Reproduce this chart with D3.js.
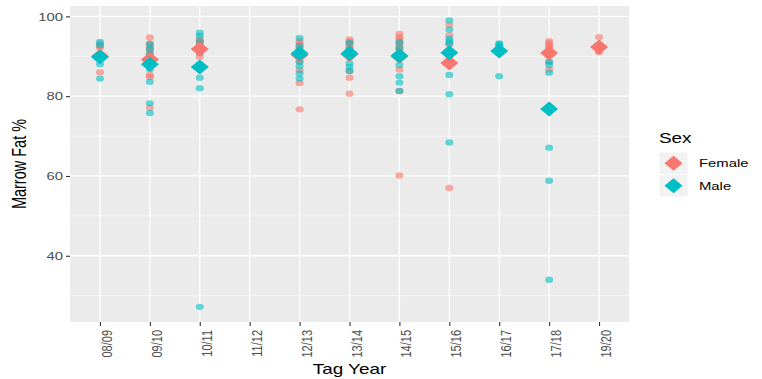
<!DOCTYPE html>
<html>
<head>
<meta charset="utf-8">
<script src="https://cdn.jsdelivr.net/npm/d3@7"></script>
<style>
  html, body { margin: 0; padding: 0; background: #fff; }
  svg { display: block; font-family: "Liberation Sans", Arial, sans-serif; }
</style>
</head>
<body>
<svg id="chart" width="762" height="379"></svg>
<script>
// Tag years on the x axis
const tagYears = ["08/09", "09/10", "10/11", "11/12", "12/13", "13/14", "14/15", "15/16", "16/17", "17/18", "19/20"];

// Individual marrow fat readings, one list per tag year
const femaleFat = [
  [93.2, 92.6, 92.2, 86.0],
  [94.7, 93.2, 92.6, 92.0, 91.4, 90.6, 89.8, 88.8, 85.3, 84.8, 77.1],
  [94.3, 93.8, 93.3, 92.8, 92.2, 91.6, 90.8, 89.9],
  [],
  [93.8, 93.3, 92.7, 92.1, 91.5, 90.8, 90.0, 88.6, 86.5, 83.3, 76.7],
  [94.2, 93.7, 93.2, 92.6, 92.0, 91.3, 90.5, 89.6, 86.3, 84.6, 80.6],
  [95.6, 94.8, 94.2, 93.6, 93.0, 92.4, 91.8, 91.0, 90.2, 86.7, 81.3, 60.1],
  [97.9, 95.3, 93.0, 90.0, 57.0],
  [],
  [93.8, 93.3, 92.8, 92.3, 91.8, 91.2, 90.5, 88.6, 86.7],
  [94.8, 91.4, 91.0]
];
const maleFat = [
  [93.6, 92.8, 90.2, 88.0, 84.4],
  [93.0, 91.8, 90.5, 89.3, 88.0, 86.8, 83.6, 78.2, 75.8],
  [95.9, 95.1, 93.6, 91.0, 88.0, 84.6, 82.0, 27.2],
  [],
  [94.6, 92.5, 90.7, 88.6, 87.5, 85.7, 84.4],
  [93.4, 91.8, 90.5, 88.2, 87.3, 86.3],
  [93.5, 92.0, 90.5, 87.8, 85.0, 83.4, 81.3],
  [99.0, 96.7, 94.4, 93.8, 93.2, 91.5, 85.3, 80.5, 68.4],
  [93.2, 93.0, 92.5, 91.8, 85.0],
  [88.6, 87.8, 85.9, 67.1, 58.8, 34.0],
  []
];

// Group means per tag year (null where no animals)
const femaleMean = [90.0, 89.2, 91.8, null, 90.3, 90.5, 90.0, 88.3, null, 90.8, 92.3];
const maleMean   = [89.8, 88.0, 87.3, null, 90.7, 90.7, 90.1, 90.9, 91.3, 76.8, null];

const yTicks = [40, 60, 80, 100];
const yMinor = [30, 50, 70, 90];
const sexes = ["Female", "Male"];
const sexColor = { Female: "#F8766D", Male: "#00BFC4" };

const svg = d3.select("#chart");
const panel = { left: 70, right: 629, top: 6, bottom: 322 };
const stretch = 1.35; // horizontal stretch applied to text

const x = d3.scalePoint().domain(tagYears).range([panel.left, panel.right]).padding(0.6);
const y = d3.scaleLinear().domain([23.4, 102.6]).range([panel.bottom, panel.top]);

// panel background
svg.append("rect")
  .attr("x", panel.left).attr("y", panel.top)
  .attr("width", panel.right - panel.left).attr("height", panel.bottom - panel.top)
  .attr("fill", "#EBEBEB");

// grid lines
const grid = svg.append("g");
grid.selectAll(".minor").data(yMinor).join("line")
  .attr("x1", panel.left).attr("x2", panel.right)
  .attr("y1", d => y(d)).attr("y2", d => y(d))
  .attr("stroke", "#fff").attr("stroke-width", 0.6);
grid.selectAll(".majorY").data(yTicks).join("line")
  .attr("x1", panel.left).attr("x2", panel.right)
  .attr("y1", d => y(d)).attr("y2", d => y(d))
  .attr("stroke", "#fff").attr("stroke-width", 1.3);
grid.selectAll(".majorX").data(tagYears).join("line")
  .attr("x1", d => x(d)).attr("x2", d => x(d))
  .attr("y1", panel.top).attr("y2", panel.bottom)
  .attr("stroke", "#fff").attr("stroke-width", 1.3);

// raw points
const points = [];
tagYears.forEach((yr, i) => {
  femaleFat[i].forEach(v => points.push({ yr, v, sex: "Female" }));
  maleFat[i].forEach(v => points.push({ yr, v, sex: "Male" }));
});
svg.append("g").selectAll("ellipse").data(points).join("ellipse")
  .attr("cx", d => x(d.yr)).attr("cy", d => y(d.v))
  .attr("rx", 4).attr("ry", 3.2)
  .attr("fill", d => sexColor[d.sex]).attr("fill-opacity", 0.6);

// mean diamonds
const diamond = (cx, cy, hw, hh) => `M${cx},${cy - hh}L${cx + hw},${cy}L${cx},${cy + hh}L${cx - hw},${cy}Z`;
const means = [];
tagYears.forEach((yr, i) => {
  if (femaleMean[i] != null) means.push({ yr, v: femaleMean[i], sex: "Female" });
});
tagYears.forEach((yr, i) => {
  if (maleMean[i] != null) means.push({ yr, v: maleMean[i], sex: "Male" });
});
svg.append("g").selectAll("path").data(means).join("path")
  .attr("d", d => diamond(x(d.yr), y(d.v), 9, 7.5))
  .attr("fill", d => sexColor[d.sex]);

// y axis
const yAxis = svg.append("g")
  .attr("transform", `translate(${panel.left},0)`)
  .call(d3.axisLeft(y).tickValues(yTicks).tickSize(4).tickPadding(3));
yAxis.select(".domain").remove();
yAxis.selectAll(".tick line").attr("stroke", "#333").attr("stroke-width", 1.1);
yAxis.selectAll(".tick text")
  .attr("x", null).attr("dy", null)
  .attr("transform", `translate(-7,0) scale(${stretch},1)`)
  .attr("dominant-baseline", "central")
  .attr("fill", "#4D4D4D").attr("font-size", 11)
  .attr("font-family", "'Liberation Sans', Arial, sans-serif");

// x axis
const xAxis = svg.append("g")
  .attr("transform", `translate(0,${panel.bottom})`)
  .call(d3.axisBottom(x).tickSize(4));
xAxis.select(".domain").remove();
xAxis.selectAll(".tick line").attr("stroke", "#333").attr("stroke-width", 1.1);
xAxis.selectAll(".tick text")
  .attr("y", null).attr("dy", null)
  .attr("transform", `translate(11.5,8) scale(${stretch},1) rotate(-90)`)
  .attr("text-anchor", "end")
  .attr("fill", "#4D4D4D").attr("font-size", 11)
  .attr("font-family", "'Liberation Sans', Arial, sans-serif");

// axis titles
svg.append("text")
  .attr("transform", `translate(${(panel.left + panel.right) / 2},374) scale(${stretch},1)`)
  .attr("text-anchor", "middle")
  .attr("font-size", 14).attr("fill", "#000")
  .text("Tag Year");
svg.append("text")
  .attr("transform", `translate(26,${(panel.top + panel.bottom) / 2}) scale(${stretch},1) rotate(-90)`)
  .attr("text-anchor", "middle")
  .attr("font-size", 14.5).attr("fill", "#000")
  .text("Marrow Fat %");

// legend
const legend = svg.append("g");
legend.append("text")
  .attr("transform", `translate(659,143) scale(${stretch},1)`)
  .attr("font-size", 14).attr("fill", "#000")
  .text("Sex");
const keys = legend.selectAll(".key").data(sexes).join("g")
  .attr("transform", (d, i) => `translate(659,${152 + i * 22.5})`);
keys.append("rect")
  .attr("width", 29).attr("height", 22.5)
  .attr("fill", "#F2F2F2").attr("stroke", "#fff").attr("stroke-width", 1);
keys.append("path")
  .attr("d", diamond(14.5, 11.25, 9, 7.5))
  .attr("fill", d => sexColor[d]);
keys.append("text")
  .attr("transform", `translate(40,11.5) scale(${stretch},1)`)
  .attr("dominant-baseline", "central")
  .attr("font-size", 11).attr("fill", "#000")
  .text(d => d);
</script>
</body>
</html>
